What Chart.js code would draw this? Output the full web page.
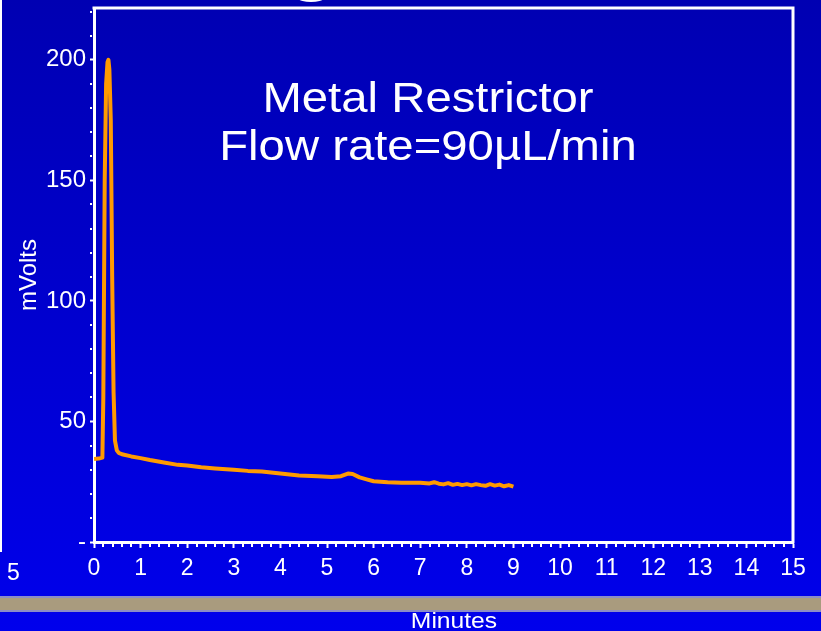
<!DOCTYPE html>
<html>
<head>
<meta charset="utf-8">
<script src="https://cdn.jsdelivr.net/npm/chart.js"></script>
<style>
  body { margin: 0; background: #0000c8; }
  canvas { display: block; }
</style>
</head>
<body>
<canvas id="chromChart" width="821" height="631"></canvas>
<script>
// chromatogram trace
var minutes = [0, 0.1, 0.18, 0.2, 0.23, 0.26, 0.29, 0.31, 0.33, 0.36, 0.39, 0.42, 0.45, 0.49, 0.53,
  0.6, 0.8, 1.0, 1.2, 1.5, 1.8, 2.0, 2.3, 2.6, 3.0, 3.3, 3.6, 4.0, 4.4, 4.8, 5.1, 5.3,
  5.45, 5.55, 5.7, 5.85, 6.0, 6.3, 6.6, 7.0, 7.2, 7.3, 7.4, 7.5, 7.6, 7.7, 7.8, 7.9,
  8.0, 8.1, 8.2, 8.3, 8.4, 8.5, 8.6, 8.7, 8.8, 8.9, 9.0];
var mVolts = [34.4, 34.6, 35, 60, 150, 190, 199, 200, 196, 175, 110, 62, 42, 38, 37,
  36.4, 35.5, 34.8, 34, 33, 32, 31.7, 31, 30.5, 30, 29.5, 29.2, 28.4, 27.6, 27.3, 27, 27.3,
  28.4, 28.2, 26.8, 26, 25.2, 24.8, 24.6, 24.6, 24.3, 24.8, 24.2, 23.9, 24.4, 23.7, 24.1, 23.6,
  24.0, 23.5, 24.0, 23.6, 23.3, 24.0, 23.4, 23.8, 23.1, 23.6, 23.0];

var yTickLabels = ['-', '50', '100', '150', '200'];
var titleLines = ['Metal Restrictor', 'Flow rate=90\u00b5L/min'];
var xAxisTitle = 'Minutes';
var yAxisTitle = 'mVolts';

var points = minutes.map(function (m, i) { return { x: m, y: mVolts[i] }; });

var slideBits = {
  id: 'slideBits',
  beforeDraw: function (chart) {
    var ctx = chart.ctx;
    var g = ctx.createLinearGradient(0, 0, 0, chart.height);
    g.addColorStop(0, '#0000b2');
    g.addColorStop(1, '#0000ec');
    ctx.save();
    ctx.fillStyle = g;
    ctx.fillRect(0, 0, chart.width, chart.height);
    // tan strip near the bottom
    ctx.fillStyle = '#8c8cc6';
    ctx.fillRect(0, 596, chart.width, 16);
    ctx.fillStyle = '#a99b7e';
    ctx.fillRect(0, 598, chart.width, 12);
    // bits of the slide left over
    ctx.fillStyle = '#ffffff';
    ctx.fillRect(0, 0, 2, 552);
    ctx.beginPath();
    ctx.ellipse(311, -1, 12, 3, 0, 0, Math.PI * 2);
    ctx.fill();
    ctx.font = '23px "Liberation Sans", Arial, sans-serif';
    ctx.textBaseline = 'alphabetic';
    ctx.fillText('5', 7, 580);
    ctx.restore();
  },
  afterDraw: function (chart) {
    var ctx = chart.ctx;
    var a = chart.chartArea;
    var xs = chart.scales.x, ys = chart.scales.y;
    ctx.save();
    ctx.strokeStyle = '#ffffff';
    ctx.lineWidth = 3;
    ctx.beginPath();
    ctx.moveTo(a.left - 1.5, a.top);
    ctx.lineTo(a.right, a.top);
    ctx.lineTo(a.right, a.bottom + 1.5);
    ctx.stroke();
    // minor ticks
    ctx.fillStyle = '#ffffff';
    for (var i = 0; i <= 75; i++) {
      if (i % 5 === 0) continue;
      var px = Math.round(xs.getPixelForValue(i / 5));
      ctx.fillRect(px - 1, a.bottom + 1, 2, 4);
    }
    for (var v = 10; v <= 220; v += 10) {
      if (v % 50 === 0) continue;
      var py = Math.round(ys.getPixelForValue(v));
      ctx.fillRect(a.left - 4, py - 1, 2, 2);
    }
    // x axis title, slightly stretched like the slide text
    ctx.font = '22px "Liberation Sans", Arial, sans-serif';
    ctx.textAlign = 'center';
    ctx.textBaseline = 'alphabetic';
    ctx.save();
    ctx.translate(454, 0);
    ctx.scale(1.12, 1);
    ctx.fillText(xAxisTitle, 0, 628);
    ctx.restore();
    // slide title
    ctx.font = '43px "Liberation Sans", Arial, sans-serif';
    ctx.translate(428, 0);
    ctx.scale(1.1, 1);
    ctx.fillText(titleLines[0], 0, 112);
    ctx.fillText(titleLines[1], 0, 160);
    ctx.restore();
  }
};

new Chart(document.getElementById('chromChart'), {
  type: 'line',
  data: {
    datasets: [{
      data: points,
      borderColor: '#ff9a00',
      borderWidth: 4,
      pointRadius: 0,
      tension: 0,
      borderJoinStyle: 'round'
    }]
  },
  options: {
    responsive: false,
    animation: false,
    layout: { padding: { top: 8, right: 28, left: 0, bottom: 0 } },
    plugins: { legend: { display: false }, tooltip: { enabled: false } },
    scales: {
      x: {
        type: 'linear',
        min: 0,
        max: 15,
        afterFit: function (s) { s.height = 89; s.paddingLeft = 0; s.paddingRight = 0; },
        border: { display: true, color: '#ffffff', width: 3 },
        grid: { drawOnChartArea: false, color: '#ffffff', tickLength: 6, tickWidth: 2 },
        ticks: {
          stepSize: 1,
          color: '#ffffff',
          padding: 7,
          maxRotation: 0,
          autoSkip: false,
          font: { family: '"Liberation Sans", Arial, sans-serif', size: 23 }
        }
      },
      y: {
        min: 0,
        max: 221.5,
        afterFit: function (s) { s.width = 94; s.paddingTop = 0; s.paddingBottom = 0; },
        border: { display: true, color: '#ffffff', width: 3 },
        grid: { drawOnChartArea: false, color: '#ffffff', tickLength: 4, tickWidth: 2 },
        ticks: {
          stepSize: 50,
          includeBounds: false,
          color: '#ffffff',
          padding: 4,
          font: { family: '"Liberation Sans", Arial, sans-serif', size: 24 },
          callback: function (value) { return yTickLabels[value / 50]; }
        },
        title: {
          display: true,
          text: yAxisTitle,
          color: '#ffffff',
          font: { family: '"Liberation Sans", Arial, sans-serif', size: 24, lineHeight: 1 },
          padding: { top: 17, bottom: 0 }
        }
      }
    }
  },
  plugins: [slideBits]
});
</script>
</body>
</html>
